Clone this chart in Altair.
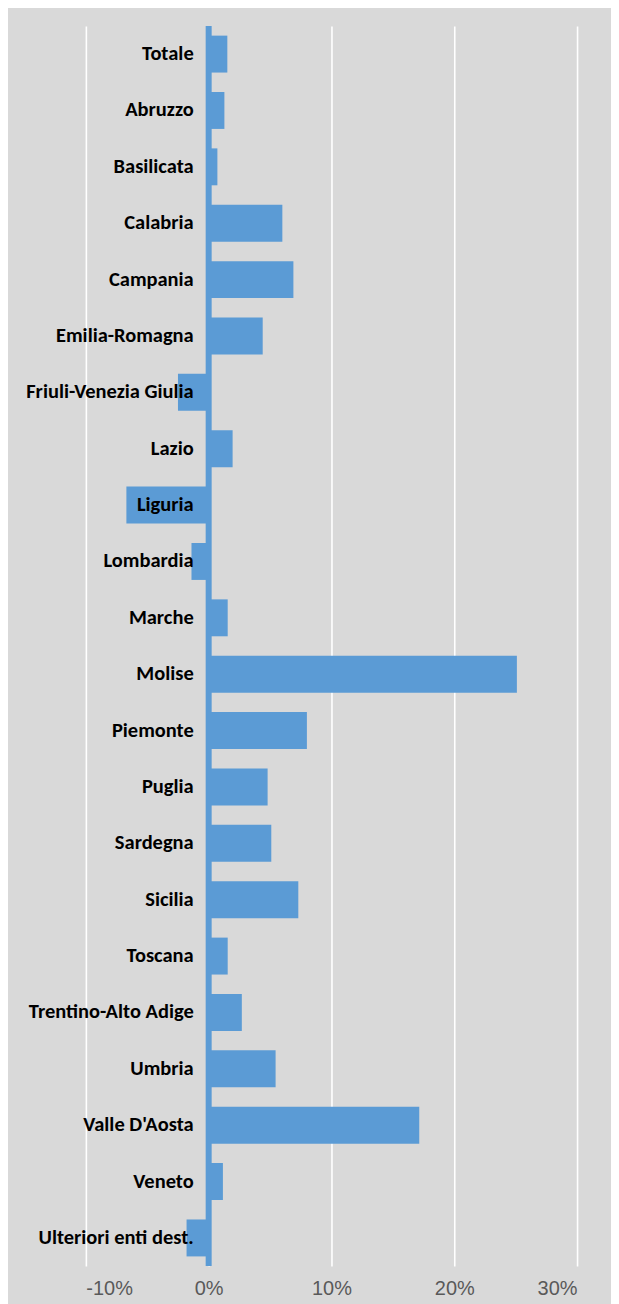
import altair as alt
import pandas as pd

categories = ["Totale", "Abruzzo", "Basilicata", "Calabria", "Campania", "Emilia-Romagna",
              "Friuli-Venezia Giulia", "Lazio", "Liguria", "Lombardia", "Marche", "Molise",
              "Piemonte", "Puglia", "Sardegna", "Sicilia", "Toscana", "Trentino-Alto Adige",
              "Umbria", "Valle D'Aosta", "Veneto", "Ulteriori enti dest."]
values = [1.52, 1.28, 0.71, 6.0, 6.9, 4.4, -2.5, 1.95, -6.7, -1.4, 1.55, 25.1,
          8.0, 4.8, 5.1, 7.3, 1.55, 2.7, 5.45, 17.15, 1.16, -1.8]
tick_values = [-0.1, 0.0, 0.1, 0.2, 0.3]

df = pd.DataFrame({"cat": categories, "val": [v / 100 for v in values]})

BLUE = "#5b9bd5"
GREY = "#d9d9d9"

xscale = alt.Scale(domain=[-0.1, 0.3], nice=False, zero=False)
yscale = alt.Scale(domain=categories, paddingInner=0.345, paddingOuter=0.17)

xaxis = alt.Axis(values=tick_values, domain=False, ticks=False,
                 labelExpr="replace(format(datum.value, '.0%'), '\u2212', '-')",
                 labelFontSize=20, labelColor="#595959",
                 labelFont="Liberation Sans Narrow, Arial Narrow, Liberation Sans",
                 labelPadding=13, grid=True, gridColor="white", gridWidth=1.6,
                 title=None)

bars = alt.Chart(df).mark_bar(color=BLUE).encode(
    x=alt.X("val:Q", scale=xscale, axis=xaxis),
    y=alt.Y("cat:N", scale=yscale, axis=None, sort=categories),
)

zero_rule = alt.Chart(pd.DataFrame({"z": [0.0]})).mark_rule(color=BLUE, strokeWidth=6).encode(
    x=alt.X("z:Q", scale=xscale, axis=xaxis)
)

labels = alt.Chart(df).mark_text(
    align="right", baseline="middle", dx=-15, fontSize=20.5, fontWeight="bold",
    font="Carlito, Lato, Liberation Sans", color="black"
).encode(
    x=alt.datum(0),
    y=alt.Y("cat:N", scale=yscale, axis=None, sort=categories),
    text="cat:N",
)

chart = alt.layer(bars, zero_rule, labels).properties(
    width=492, height=1242, background=GREY,
    autosize="none",
    padding={"left": 78, "top": 17, "right": 34, "bottom": 40},
).configure_view(stroke=None, fill=GREY)

chart.save("out.html", embed_options={"renderer": "svg", "actions": False})
